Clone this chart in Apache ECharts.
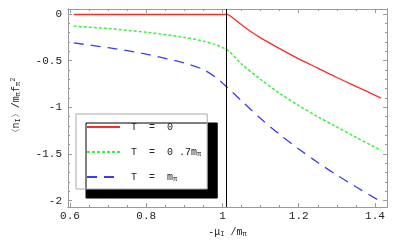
<!DOCTYPE html>
<html>
<head>
<meta charset="utf-8">
<script src="https://cdn.jsdelivr.net/npm/echarts@6/dist/echarts.min.js"></script>
<style>html,body{margin:0;padding:0;background:#fff}#c{width:397px;height:246px}</style>
</head>
<body>
<div id="c"></div>
<script>
// ---- data ----
const xT0flat = [0.61, 1.015];
const yT0flat = [-0.005, -0.005];
const xT0   = [1.015, 1.03, 1.05, 1.075, 1.1, 1.15, 1.2, 1.25, 1.3, 1.35, 1.416];
const yT0   = [-0.005, -0.05, -0.115, -0.19, -0.255, -0.37, -0.48, -0.58, -0.68, -0.775, -0.9];
const xT07  = [0.61, 0.7, 0.8, 0.9, 0.95, 0.98, 1.0, 1.015, 1.05, 1.1, 1.15, 1.2, 1.25, 1.3, 1.35, 1.416];
const yT07  = [-0.13, -0.155, -0.195, -0.25, -0.29, -0.325, -0.36, -0.39, -0.535, -0.7, -0.85, -0.98, -1.1, -1.21, -1.32, -1.46];
const xT1   = [0.61, 0.7, 0.8, 0.9, 0.95, 0.985, 1.0, 1.015, 1.05, 1.1, 1.15, 1.2, 1.25, 1.3, 1.35, 1.416];
const yT1   = [-0.31, -0.36, -0.43, -0.525, -0.595, -0.685, -0.74, -0.795, -0.93, -1.12, -1.29, -1.445, -1.59, -1.725, -1.85, -2.01];
const transitionX = 1.015;
const xTicks = [0.6, 0.8, 1, 1.2, 1.4];
const xMinor = [0.6,0.65,0.7,0.75,0.8,0.85,0.9,0.95,1,1.05,1.1,1.15,1.2,1.25,1.3,1.35,1.4];
const yTicks = [0, -0.5, -1, -1.5, -2];
const yMinor = [0,-0.1,-0.2,-0.3,-0.4,-0.5,-0.6,-0.7,-0.8,-0.9,-1,-1.1,-1.2,-1.3,-1.4,-1.5,-1.6,-1.7,-1.8,-1.9,-2];
const seriesNames = ['T = 0', 'T = 0.7mπ', 'T = mπ'];

const zip = (xs, ys) => xs.map((x, i) => [x, ys[i]]);
const FONT = '"Liberation Mono", "DejaVu Sans Mono", monospace';
const frameColor = '#9a9a9a';
const XMIN = 0.5947, XMAX = 1.4316, YMIN = -2.067, YMAX = 0.054;

function xAx(pos, ticks, len, labels) {
  return {
    type: 'value', position: pos, min: XMIN, max: XMAX,
    splitLine: { show: false },
    axisLine: { show: true, onZero: false, lineStyle: { color: frameColor, width: 1 } },
    axisTick: { show: true, inside: true, length: len, customValues: ticks, lineStyle: { color: frameColor } },
    axisLabel: labels ? {
      show: true, customValues: xTicks, margin: 4, fontFamily: FONT, fontSize: 11, color: '#222',
      formatter: v => String(Math.round(v * 10) / 10)
    } : { show: false }
  };
}
function yAx(pos, ticks, len, labels) {
  return {
    type: 'value', position: pos, min: YMIN, max: YMAX,
    splitLine: { show: false },
    axisLine: { show: true, onZero: false, lineStyle: { color: frameColor, width: 1 } },
    axisTick: { show: true, inside: true, length: len, customValues: ticks, lineStyle: { color: frameColor } },
    axisLabel: labels ? {
      show: true, customValues: yTicks, margin: 6, fontFamily: FONT, fontSize: 11, color: '#222',
      formatter: v => String(Math.round(v * 10) / 10)
    } : { show: false }
  };
}

const xAxes = [xAx('bottom', xTicks, 4, true), xAx('bottom', xMinor, 2, false), xAx('top', xTicks, 4, false), xAx('top', xMinor, 2, false)];
Object.assign(xAxes[0], {
  name: '-μ{s|I} /m{s|π}', nameLocation: 'middle', nameGap: 14,
  nameTextStyle: { fontFamily: FONT, fontSize: 10, color: '#222', verticalAlign: 'top',
    rich: { s: { fontFamily: FONT, fontSize: 7, color: '#222', padding: [5, 0, 0, 0] } } }
});
const yAxes = [yAx('left', yTicks, 4, true), yAx('left', yMinor, 2, false), yAx('right', yTicks, 4, false), yAx('right', yMinor, 2, false)];
Object.assign(yAxes[0], {
  name: '〈n{s|I}〉/m{s|π}f{s|π}{p|2}', nameLocation: 'middle', nameGap: 46, nameRotate: 90,
  nameTextStyle: { fontFamily: FONT, fontSize: 10, color: '#222',
    rich: { s: { fontFamily: FONT, fontSize: 7, color: '#222', padding: [5, 0, 0, 0] },
            p: { fontFamily: FONT, fontSize: 7, color: '#222', padding: [0, 0, 5, 0] } } }
});

const common = { type: 'line', xAxisIndex: 0, yAxisIndex: 0, showSymbol: false, symbol: 'none', smooth: 0.3 };
const red = '#ff2a2a', green = '#3cf03c', blue = '#3a3aff';

const chart = echarts.init(document.getElementById('c'), null, { renderer: 'canvas' });
chart.setOption({
  animation: false,
  backgroundColor: '#fff',
  grid: { left: 68, right: 10, top: 9, bottom: 39 },
  xAxis: xAxes,
  yAxis: yAxes,
  legend: {
    orient: 'vertical', left: 76, top: 114,
    data: seriesNames,
    itemWidth: 33, itemHeight: 14, itemGap: 9,
    padding: [5, 6, 4, 10],
    backgroundColor: '#fff', borderColor: '#aaa', borderWidth: 1,
    shadowColor: '#000', shadowBlur: 0, shadowOffsetX: 10, shadowOffsetY: 9,
    itemStyle: { opacity: 0 },
    formatter: n => n === 'T = 0' ? ' T  =  0' : n === 'T = 0.7mπ' ? ' T  =  0 .7m{s|π}' : ' T  =  m{s|π}',
    textStyle: { fontFamily: FONT, fontSize: 10, color: '#222', lineHeight: 16,
      rich: { s: { fontFamily: FONT, fontSize: 7, color: '#222', padding: [5, 0, 0, 0] } } }
  },
  series: [
    Object.assign({}, common, { name: seriesNames[0], data: zip(xT0flat, yT0flat), smooth: false,
      lineStyle: { color: red, width: 1.3 }, itemStyle: { color: red },
      markLine: { silent: true, symbol: 'none', label: { show: false },
        lineStyle: { color: '#000', width: 1, type: 'solid' }, data: [{ xAxis: transitionX }] } }),
    Object.assign({}, common, { name: seriesNames[0], data: zip(xT0, yT0),
      lineStyle: { color: red, width: 1.3 }, itemStyle: { color: red } }),
    Object.assign({}, common, { name: seriesNames[1], data: zip(xT07, yT07),
      lineStyle: { color: green, width: 1.5, type: [3, 2] }, itemStyle: { color: green } }),
    Object.assign({}, common, { name: seriesNames[2], data: zip(xT1, yT1),
      lineStyle: { color: blue, width: 1.3, type: [10, 7] }, itemStyle: { color: blue } })
  ]
});
</script>
</body>
</html>
